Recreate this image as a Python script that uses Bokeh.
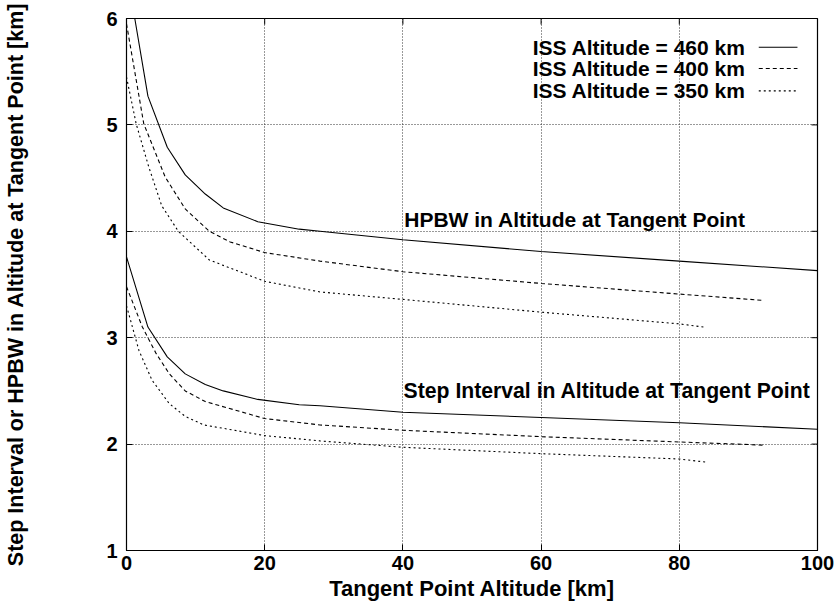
from bokeh.plotting import figure
from bokeh.models import Range1d, FixedTicker
from bokeh.embed import file_html
from bokeh.resources import INLINE
from bokeh.core.properties import value

# Tangent point altitude [km] and corresponding widths [km]
hpbw_460_x = [0, 1.2, 3.1, 5.9, 8.5, 11.4, 14, 19, 25, 28, 40, 60, 80, 100]
hpbw_460_y = [6.6, 6.0, 5.27, 4.79, 4.53, 4.35, 4.22, 4.09, 4.02, 4.0, 3.92, 3.81, 3.72, 3.63]

hpbw_400_x = [0, 2.5, 5.6, 8.5, 12, 15, 20, 28, 40, 60, 80, 92.3]
hpbw_400_y = [5.95, 5.01, 4.51, 4.21, 4.0, 3.9, 3.80, 3.72, 3.62, 3.51, 3.41, 3.35]

hpbw_350_x = [0, 1.4, 3.2, 5.1, 7.5, 12, 20, 28, 40, 60, 80, 83.5]
hpbw_350_y = [5.45, 5.01, 4.61, 4.24, 4.0, 3.73, 3.53, 3.43, 3.36, 3.24, 3.13, 3.10]

step_460_x = [0, 3.1, 5.9, 8.5, 11.4, 14, 19, 25, 28, 40, 60, 80, 100]
step_460_y = [3.76, 3.10, 2.82, 2.66, 2.56, 2.50, 2.42, 2.37, 2.36, 2.30, 2.25, 2.20, 2.14]

step_400_x = [0, 2.3, 4.3, 6.2, 8.5, 11.4, 20, 28, 40, 60, 80, 92.3]
step_400_y = [3.48, 3.10, 2.85, 2.66, 2.50, 2.40, 2.24, 2.18, 2.13, 2.07, 2.02, 1.99]

step_350_x = [0, 1.8, 3.7, 6.2, 8.5, 11.2, 20, 28, 40, 60, 80, 84]
step_350_y = [3.30, 2.88, 2.60, 2.38, 2.26, 2.18, 2.08, 2.03, 1.97, 1.91, 1.86, 1.83]

x_ticks = [0, 20, 40, 60, 80, 100]
y_ticks = [1, 2, 3, 4, 5, 6]

legend_labels = ["ISS Altitude = 460 km", "ISS Altitude = 400 km", "ISS Altitude = 350 km"]
dashes = ["solid", "4 3", "2 3"]

FONT = "Liberation Sans"
X0, X1, Y0, Y1 = 0, 100, 1, 6

p = figure(width=838, height=605, output_backend="svg", toolbar_location=None,
           x_range=Range1d(X0, X1), y_range=Range1d(Y0, Y1),
           min_border_left=126, min_border_right=21,
           min_border_top=18, min_border_bottom=55)

p.background_fill_color = "white"
p.border_fill_color = "white"
p.outline_line_color = "black"
p.outline_line_width = 1.2

for ax, ticks in ((p.xaxis[0], x_ticks), (p.yaxis[0], y_ticks)):
    ax.ticker = FixedTicker(ticks=ticks)
    ax.major_tick_in = 6
    ax.major_tick_out = 0
    ax.minor_tick_line_color = None
    ax.axis_line_color = "black"
    ax.major_label_text_font = FONT
    ax.major_label_text_font_style = "bold"
    ax.major_label_text_font_size = "20px"
    ax.major_label_text_color = "black"
    ax.axis_label_text_font = FONT
    ax.axis_label_text_font_style = "bold"
    ax.axis_label_text_color = "black"

p.xaxis.axis_label = "Tangent Point Altitude [km]"
p.xaxis.axis_label_text_font_size = "22px"
p.xaxis.major_label_standoff = 5
p.xaxis.axis_label_standoff = 3
p.yaxis.axis_label = "Step Interval or HPBW in Altitude at Tangent Point [km]"
p.yaxis.axis_label_text_font_size = "21.5px"
p.yaxis.major_label_standoff = 9
p.yaxis.axis_label_standoff = 75

# mirrored tick marks along the right and top edges of the frame
tick_dx = 6 / 691 * (X1 - X0)
tick_dy = 6 / 532 * (Y1 - Y0)
p.segment(x0=[X1] * len(y_ticks), y0=y_ticks, x1=[X1 - tick_dx] * len(y_ticks), y1=y_ticks,
          line_color="black", line_width=1)
p.segment(x0=x_ticks, y0=[Y1] * len(x_ticks), x1=x_ticks, y1=[Y1 - tick_dy] * len(x_ticks),
          line_color="black", line_width=1)

p.xgrid.ticker = FixedTicker(ticks=x_ticks[1:-1])
p.ygrid.ticker = FixedTicker(ticks=y_ticks[1:-1])
for g in (p.xgrid[0], p.ygrid[0]):
    g.grid_line_color = "#333333"
    g.grid_line_dash = "1 2"
    g.grid_line_width = 1

series = [
    (hpbw_460_x, hpbw_460_y, dashes[0]),
    (hpbw_400_x, hpbw_400_y, dashes[1]),
    (hpbw_350_x, hpbw_350_y, dashes[2]),
    (step_460_x, step_460_y, dashes[0]),
    (step_400_x, step_400_y, dashes[1]),
    (step_350_x, step_350_y, dashes[2]),
]
for xs, ys, dash in series:
    p.line(xs, ys, line_color="black", line_width=1.1, line_dash=dash)

# key: text on the left, line sample on the right
key_y = [5.73, 5.53, 5.32]
for lab, yy, dash in zip(legend_labels, key_y, dashes):
    p.text(x=[89.6], y=[yy], text=[lab], text_align="right", text_baseline="middle",
           text_font=value(FONT), text_font_style="bold", text_font_size="21px",
           text_color="black")
    p.line([91.5, 97.1], [yy, yy], line_color="black", line_width=1.1, line_dash=dash)

p.text(x=[40.2], y=[4.11], text=["HPBW in Altitude at Tangent Point"],
       text_align="left", text_baseline="middle", text_font=value(FONT),
       text_font_style="bold", text_font_size="21px", text_color="black")
p.text(x=[40.1], y=[2.50], text=["Step Interval in Altitude at Tangent Point"],
       text_align="left", text_baseline="middle", text_font=value(FONT),
       text_font_style="bold", text_font_size="21.2px", text_color="black")

open("out.html", "w").write(file_html(p, INLINE))
